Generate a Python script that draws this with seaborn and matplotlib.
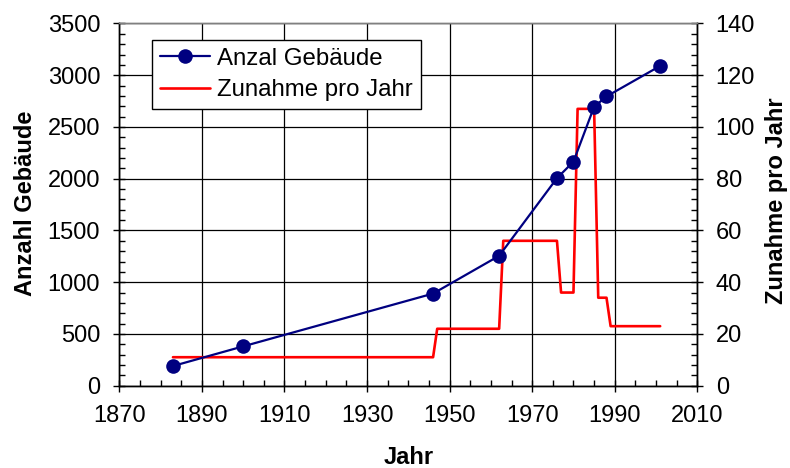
import matplotlib.pyplot as plt
import seaborn as sns
from matplotlib.ticker import MultipleLocator

sns.set_theme(style='white')
plt.rcParams['font.family'] = ['Liberation Sans', 'DejaVu Sans']
plt.rcParams['text.color'] = 'black'
plt.rcParams['axes.labelcolor'] = 'black'
plt.rcParams['xtick.color'] = 'black'
plt.rcParams['ytick.color'] = 'black'

# Anzahl Gebaeude (left axis)
years = [1883, 1900, 1946, 1962, 1976, 1980, 1985, 1988, 2001]
buildings = [190, 380, 890, 1255, 2005, 2165, 2695, 2795, 3090]

# Zunahme pro Jahr (right axis), step line
step_years = [1883, 1946, 1947, 1962, 1963, 1976, 1977, 1980, 1981, 1985, 1986, 1988, 1989, 2001]
step_rate = [11, 11, 22, 22, 56, 56, 36, 36, 107, 107, 34, 34, 23, 23]

FS = 17

fig, ax = plt.subplots(figsize=(7.9, 4.68), dpi=100)
fig.subplots_adjust(left=0.151, right=0.8827, top=0.9498, bottom=0.1759)

# base axes: grid + red line (right scale); twin on top: blue line (left scale)
sns.lineplot(x=step_years, y=step_rate, ax=ax, color='#ff0000', linewidth=1.9,
             label='Zunahme pro Jahr', legend=False)
ax2 = ax.twinx()
sns.lineplot(x=years, y=buildings, ax=ax2, color='#000080', marker='o',
             markersize=10.5, linewidth=1.6, markeredgewidth=0, label='Anzal Gebäude', legend=False)

ax.yaxis.tick_right()
ax.yaxis.set_label_position('right')
ax2.yaxis.tick_left()
ax2.yaxis.set_label_position('left')

ax.set_xlim(1870, 2010)
ax.set_ylim(0, 140)
ax2.set_ylim(0, 3500)
ax.xaxis.set_major_locator(MultipleLocator(20, offset=10))
ax.xaxis.set_minor_locator(MultipleLocator(5))
ax.yaxis.set_major_locator(MultipleLocator(20))
ax.yaxis.set_minor_locator(MultipleLocator(4))
ax2.yaxis.set_major_locator(MultipleLocator(500))
ax2.yaxis.set_minor_locator(MultipleLocator(100))

ax.grid(True, which='major', color='black', linewidth=0.9)

for a in (ax, ax2):
    a.tick_params(which='major', direction='inout', length=8.5, width=1, labelsize=FS)
    a.tick_params(which='minor', direction='in', length=4, width=1)
ax.tick_params(axis='x', which='both', bottom=True, top=False, pad=9.5)
ax.tick_params(axis='y', which='both', right=True, left=False, pad=9)
ax2.tick_params(axis='y', which='both', left=True, right=False, pad=9.5)

for a in (ax, ax2):
    for s in a.spines.values():
        s.set_color('black')
        s.set_linewidth(1)
    a.spines['top'].set_color('#808080')

ax.set_xlabel('Jahr', fontsize=FS, fontweight='bold')
ax2.set_ylabel('Anzahl Gebäude', fontsize=FS, fontweight='bold')
ax.set_ylabel('Zunahme pro Jahr', fontsize=FS, fontweight='bold')
ax.xaxis.set_label_coords(0.5, -0.166)
ax2.yaxis.set_label_coords(-0.142, 0.503)
ax.yaxis.set_label_coords(1.117, 0.51)

h1, l1 = ax2.get_legend_handles_labels()
h2, l2 = ax.get_legend_handles_labels()
leg = ax2.legend(h1 + h2, l1 + l2, loc='upper left', bbox_to_anchor=(0.0566, 0.954),
                 borderaxespad=0, fontsize=17.3, frameon=True, fancybox=False,
                 edgecolor='black', framealpha=1, borderpad=0.32, handlelength=2.1,
                 handletextpad=0.3, labelspacing=0.4)
leg.get_frame().set_linewidth(1)

plt.savefig('out.png', dpi=100)
